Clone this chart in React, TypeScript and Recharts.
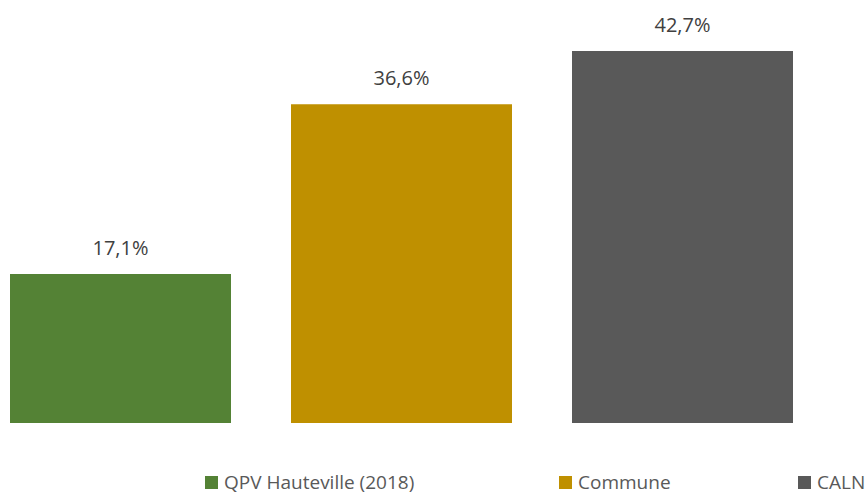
import { Bar, BarChart, LabelList, XAxis, YAxis } from "recharts";

const seriesNames = ["QPV Hauteville (2018)", "Commune", "CALN"];
const seriesKeys = ["qpv", "commune", "caln"];
const seriesValues = [17.1, 36.6, 42.7];
const seriesColors = ["#548235", "#BF9000", "#595959"];

const data = [
  seriesKeys.reduce(
    (row, key, i) => ({ ...row, [key]: seriesValues[i] }),
    { name: "" } as Record<string, string | number>
  ),
];

const fontFamily = "'Liberation Sans Narrow', 'Open Sans', sans-serif";
const legendWidths = [354, 239, 70];

const formatPct = (v: unknown) =>
  Number(v).toFixed(1).replace(".", ",") + "%";

export default function App() {
  return (
    <div
      style={{
        position: "absolute",
        left: 0,
        top: 0,
        width: 868,
        height: 494,
        background: "#fff",
        fontFamily,
        overflow: "hidden",
      }}
    >
      <BarChart
        width={868}
        height={494}
        data={data}
        margin={{ top: 31, right: 66, bottom: 71, left: 0 }}
        barGap={60}
      >
        <XAxis dataKey="name" hide />
        <YAxis hide domain={[0, 45]} />
        {seriesKeys.map((key, i) => (
          <Bar
            key={key}
            dataKey={key}
            name={seriesNames[i]}
            fill={seriesColors[i]}
            barSize={221}
            isAnimationActive={false}
          >
            <LabelList
              dataKey={key}
              position="top"
              offset={19}
              formatter={formatPct}
              style={{ fontSize: 20, fill: "#404040", fontFamily }}
            />
          </Bar>
        ))}
      </BarChart>
      <div
        style={{
          position: "absolute",
          left: 205,
          top: 470,
          height: 24,
          lineHeight: "24px",
          display: "flex",
          alignItems: "center",
          fontSize: 19,
          color: "#595959",
          whiteSpace: "nowrap",
        }}
      >
        {seriesNames.map((name, i) => (
          <div
            key={name}
            style={{ width: legendWidths[i], display: "flex", alignItems: "center" }}
          >
            <span
              style={{
                width: 13,
                height: 13,
                background: seriesColors[i],
                marginRight: 6,
                display: "inline-block",
              }}
            />
            <span>{name}</span>
          </div>
        ))}
      </div>
    </div>
  );
}
